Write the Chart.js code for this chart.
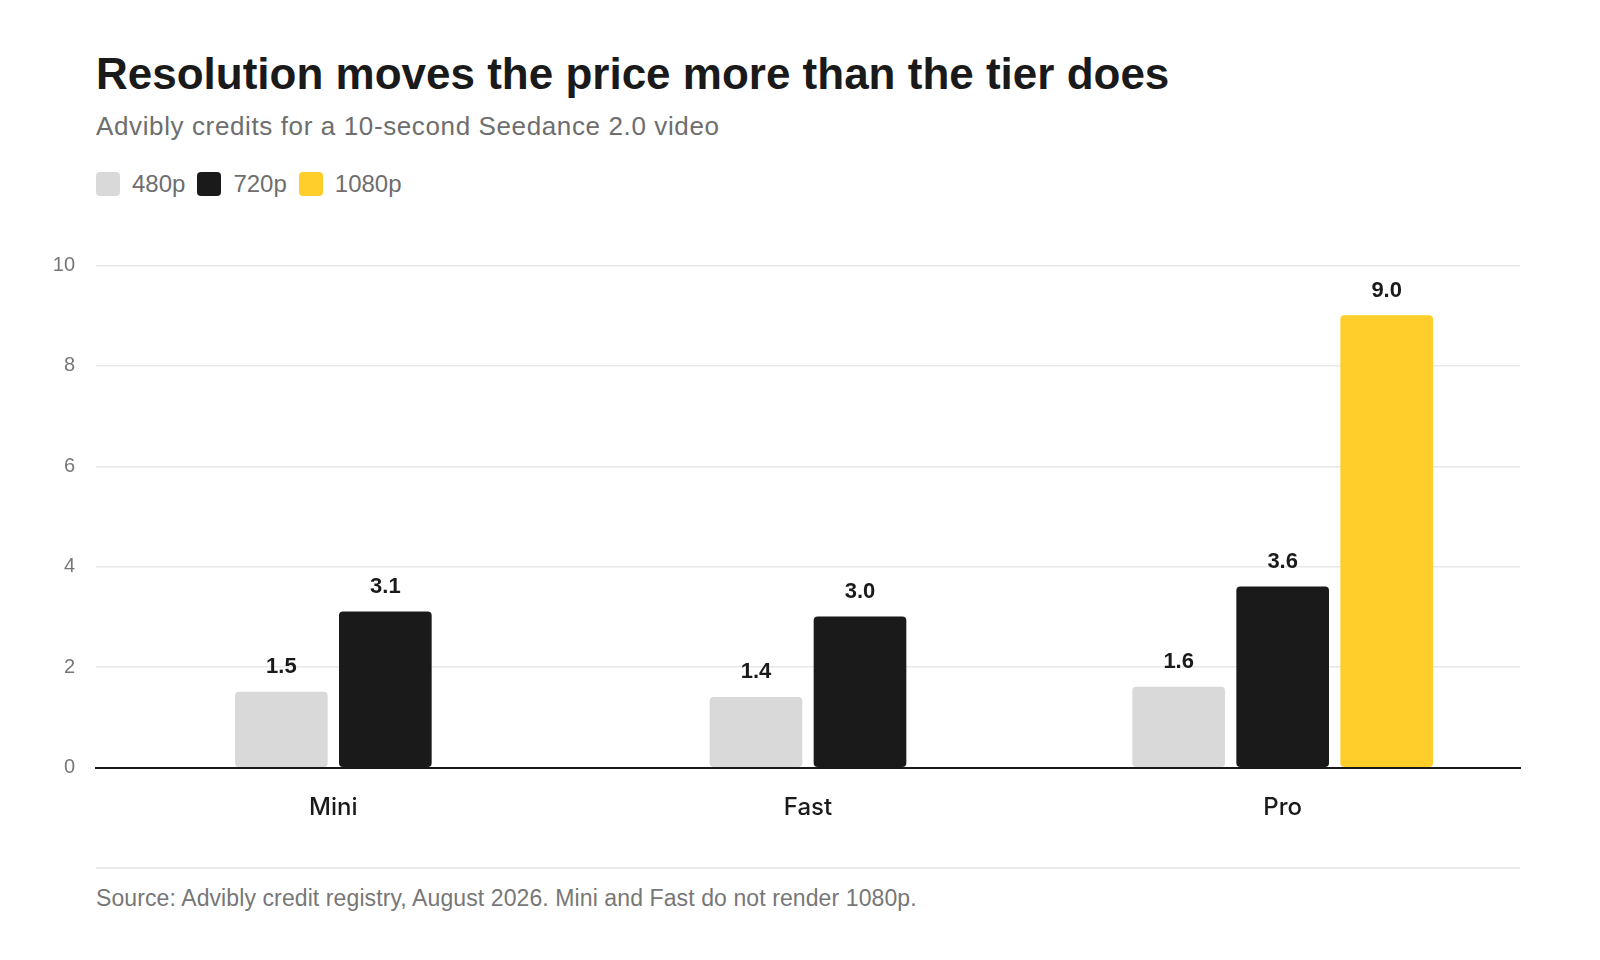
<!DOCTYPE html>
<html>
<head>
<meta charset="utf-8">
<script src="https://cdn.jsdelivr.net/npm/chart.js@4/dist/chart.umd.min.js"></script>
<style>
  html, body { margin: 0; padding: 0; background: #fff; }
  body { width: 1600px; height: 960px; position: relative; overflow: hidden; font-family: "Liberation Sans", Arial, sans-serif; }
  .abs { position: absolute; line-height: 1; white-space: nowrap; }
  .title { left: 96px; top: 52px; font-size: 44px; font-weight: bold; color: #1a1a1a; }
  .subtitle { left: 96px; top: 113px; font-size: 26px; letter-spacing: 0.62px; color: #6e6e6e; }
  .legend { left: 96px; top: 172px; display: flex; align-items: center; }
  .legend span.box { width: 24px; height: 24px; border-radius: 4px; margin-right: 12px; }
  .legend span.lbl { font-size: 24px; line-height: 24px; color: #6e6e6e; margin-right: 12px; }
  .rule { left: 96px; top: 867px; width: 1424px; height: 2px; background: #ebebeb; }
  .source { left: 96px; top: 887px; font-size: 23px; letter-spacing: 0.1px; color: #777; }
  canvas { position: absolute; left: 0; top: 0; }
</style>
</head>
<body>
<div class="abs title">Resolution moves the price more than the tier does</div>
<div class="abs subtitle">Advibly credits for a 10-second Seedance 2.0 video</div>
<div class="abs legend" id="legend"></div>
<div class="abs rule"></div>
<div class="abs source">Source: Advibly credit registry, August 2026. Mini and Fast do not render 1080p.</div>
<div style="position:absolute;left:0;top:0;width:1600px;height:960px;">
  <canvas id="myChart"></canvas>
</div>
<script>
const tiers = ["Mini", "Fast", "Pro"]
const credits480 = [1.5, 1.4, 1.6]
const credits720 = [3.1, 3.0, 3.6]
const credits1080 = [null, null, 9.0]
const seriesNames = ["480p", "720p", "1080p"]
const seriesColors = ["#d9d9d9", "#1a1a1a", "#ffce2b"]
const yMax = 10
const yStep = 2

// legend in html
const legendDiv = document.getElementById("legend")
seriesNames.forEach((name, i) => {
  let box = document.createElement("span")
  box.className = "box"
  box.style.background = seriesColors[i]
  let lbl = document.createElement("span")
  lbl.className = "lbl"
  lbl.textContent = name
  legendDiv.appendChild(box)
  legendDiv.appendChild(lbl)
})

// value labels above bars
const barValues = {
  id: "barValues",
  afterDatasetsDraw(chart) {
    const ctx = chart.ctx
    ctx.save()
    ctx.font = "bold 22px 'Liberation Sans', Arial, sans-serif"
    ctx.fillStyle = "#1a1a1a"
    ctx.textAlign = "center"
    ctx.textBaseline = "alphabetic"
    chart.data.datasets.forEach((ds, di) => {
      chart.getDatasetMeta(di).data.forEach((bar, i) => {
        const v = ds.data[i]
        if (v == null) return
        ctx.fillText(v.toFixed(1), bar.x, bar.y - 19)
      })
    })
    ctx.restore()
  }
}

const data = {
  labels: tiers,
  datasets: [credits480, credits720, credits1080].map((vals, i) => ({
    label: seriesNames[i],
    data: vals,
    backgroundColor: seriesColors[i],
    borderRadius: 4,
    borderSkipped: false,
    barThickness: 104,
    maxBarThickness: 92
  }))
}

const config = {
  type: "bar",
  data: data,
  options: {
    responsive: true,
    maintainAspectRatio: false,
    animation: false,
    skipNull: true,
    layout: { padding: { top: 265.5, right: 80, bottom: 132.5, left: 0 } },
    plugins: {
      legend: { display: false },
      tooltip: { enabled: false }
    },
    scales: {
      x: {
        grid: { display: false, drawTicks: false },
        border: { color: "#1a1a1a", width: 2 },
        ticks: {
          color: "#1a1a1a",
          padding: 26,
          font: { family: "Inter, 'Liberation Sans', sans-serif", size: 24, weight: 500 }
        },
        afterFit: (s) => { s.height = 60 }
      },
      y: {
        min: 0,
        max: yMax,
        grid: {
          drawTicks: false,
          lineWidth: 1.5,
          color: (c) => c.tick && c.tick.value === 0 ? "rgba(0,0,0,0)" : "#e8e8e8"
        },
        border: { display: false },
        ticks: {
          stepSize: yStep,
          color: "#777",
          padding: 21,
          font: { family: "'Liberation Sans', Arial, sans-serif", size: 20 }
        },
        afterFit: (s) => { s.width = 96 }
      }
    }
  },
  plugins: [barValues]
}

const myChart = new Chart(document.getElementById("myChart"), config)
</script>
</body>
</html>
